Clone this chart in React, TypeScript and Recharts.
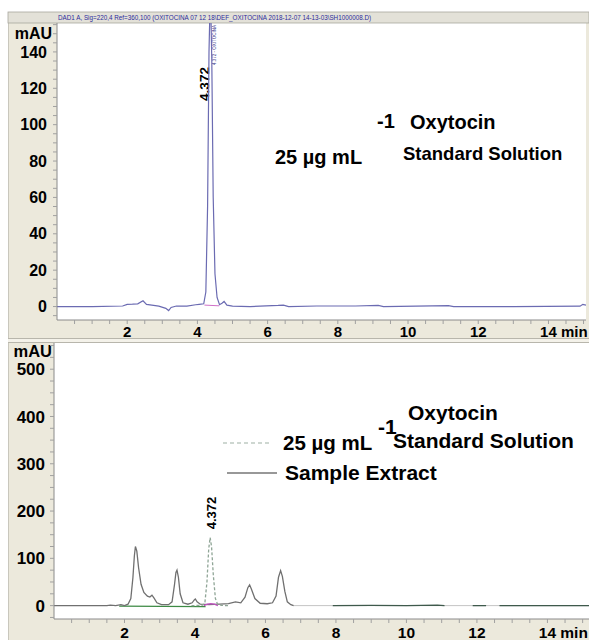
import React from 'react';
import { LineChart, Line, XAxis, YAxis, CartesianGrid, Customized } from 'recharts';

const FONT = '"Liberation Sans", Arial, Helvetica, sans-serif';
const BEIGE = '#ece9dc';

// ---- Top panel: 25 µg/mL standard solution ----
const topT = [0, 1.0, 1.87, 2.0, 2.15, 2.3, 2.45, 2.55, 2.7, 2.9, 3.1, 3.18, 3.25, 3.4, 3.7, 3.95, 4.05, 4.18, 4.24, 4.29, 4.33, 4.37, 4.41, 4.45, 4.5, 4.56, 4.63, 4.7, 4.76, 4.84, 5.0, 5.5, 6.3, 6.45, 6.6, 7.4, 8.5, 9.15, 9.3, 11.15, 11.3, 13.0, 14.9, 14.98, 15.07];
const topV = [0, 0, 0.3, 1.2, 1.3, 1.5, 3.2, 1.2, 0.8, 0.2, -1.0, -2.2, -0.5, 0.3, 0.2, 1.0, 1.2, 1.5, 8, 55, 140, 175, 135, 60, 18, 5, 1, 1.8, 2.8, 0.8, 0.2, 0, 0.6, 0.8, 0, 0.3, 0.3, 0.6, 0, 0.5, 0, 0, 0.2, 1.2, 0.8];
const topBaseT = [4.2, 4.62];
const topBaseV = [0.8, 0.4];
const topYTicks = [-5, 0, 5, 10, 15, 20, 25, 30, 35, 40, 45, 50, 55, 60, 65, 70, 75, 80, 85, 90, 95, 100, 105, 110, 115, 120, 125, 130, 135, 140, 145, 150, 155];
const topYLabels = [0, 20, 40, 60, 80, 100, 120, 140];

// ---- Bottom panel: sample extract vs standard ----
const sampleT = [0, 1.5, 1.6, 1.75, 1.9, 2.0, 2.1, 2.18, 2.24, 2.28, 2.31, 2.35, 2.4, 2.47, 2.55, 2.65, 2.72, 2.78, 2.84, 2.92, 3.05, 3.25, 3.35, 3.42, 3.46, 3.49, 3.53, 3.58, 3.66, 3.8, 3.92, 3.98, 4.01, 4.06, 4.15, 4.4, 4.7, 4.95, 5.15, 5.3, 5.42, 5.5, 5.55, 5.6, 5.7, 5.85, 6.05, 6.2, 6.3, 6.37, 6.43, 6.48, 6.55, 6.62, 6.72, 6.8];
const sampleV = [0, 0, 1, 0, 2, 0, 3, 15, 60, 105, 125, 115, 80, 45, 28, 20, 18, 22, 16, 6, 2, 2, 8, 45, 70, 75, 60, 25, 6, 3, 6, 12, 14, 8, 3, 2, 3, 4, 8, 6, 18, 38, 44, 35, 15, 5, 4, 6, 20, 60, 74, 62, 30, 8, 2, 0];
const stdT = [3.9, 4.2, 4.28, 4.34, 4.39, 4.43, 4.47, 4.52, 4.58, 4.64, 4.75, 4.95];
const stdV = [0, 0.5, 5, 50, 120, 144, 125, 65, 15, 3, 0.5, 0];
const greenT = [1.85, 4.3];
const greenV = [-1, -2];
const pinkT = [4.25, 4.35, 4.45, 4.55, 4.65];
const pinkV = [0, 3, 4, 3, 0];
const faintT = [6.8, 15.18];
const faintV = [0, 0];
const tailT = [7.91, 9.0, 10.0, 10.88, 11.08, 11.09, 11.88, 12.26, 12.27, 12.64, 13.5, 15.18];
const tailV = [0, 0.5, 0, 1, 0, null, 0, 0, null, 0, 0, 0];
const botYTicks = [-25, 0, 25, 50, 75, 100, 125, 150, 175, 200, 225, 250, 275, 300, 325, 350, 375, 400, 425, 450, 475, 500, 525, 550];
const botYLabels = [0, 100, 200, 300, 400, 500];

const xTicks = [0.5, 1, 1.5, 2, 2.5, 3, 3.5, 4, 4.5, 5, 5.5, 6, 6.5, 7, 7.5, 8, 8.5, 9, 9.5, 10, 10.5, 11, 11.5, 12, 12.5, 13, 13.5, 14, 14.5, 15];
const xLabels = [2, 4, 6, 8, 10, 12, 14];

const zip = (ts: number[], vs: (number | null)[]) => ts.map((t, i) => ({ t, v: vs[i] }));

const topData = zip(topT, topV);
const topBase = zip(topBaseT, topBaseV);
const sampleData = zip(sampleT, sampleV);
const stdData = zip(stdT, stdV);
const greenData = zip(greenT, greenV);
const pinkData = zip(pinkT, pinkV);
const faintData = zip(faintT, faintV);
const tailData = zip(tailT, tailV);

function XTick(props: any) {
  const { x, y, payload, fs } = props;
  const v = payload.value;
  if (!xLabels.includes(v)) return null;
  if (v === 14) {
    const half = fs * 0.556;
    return (
      <text x={x - half} y={y} dy="0.71em" textAnchor="start" fontSize={fs} fontWeight="bold" fontFamily={FONT} fill="#000">
        14 min
      </text>
    );
  }
  return (
    <text x={x} y={y} dy="0.71em" textAnchor="middle" fontSize={fs} fontWeight="bold" fontFamily={FONT} fill="#000">
      {v}
    </text>
  );
}

const bold = { fontFamily: FONT, fontWeight: 'bold' as const, fill: '#000' };

function TopAnnot() {
  return (
    <g>
      <rect x={8} y={12} width={581} height={11} fill="#e3e1d8" stroke="#a9a79e" strokeWidth={0.8} />
      <text x={58} y={17.5} dy="0.35em" fontSize={6.3} fontFamily={FONT} fill="#2b2b9c">
        DAD1 A, Sig=220,4 Ref=360,100 (OXITOCINA 07 12 18\DEF_OXITOCINA 2018-12-07 14-13-03\SH1000008.D)
      </text>
      <text x={52} y={33} dy="0.35em" textAnchor="end" fontSize={16} {...bold}>mAU</text>
      <text transform="translate(204,84) rotate(-90)" textAnchor="middle" dy="0.35em" fontSize={13.5} {...bold}>4.372</text>
      <text transform="translate(214,45) rotate(-90)" textAnchor="middle" dy="0.35em" fontSize={4.5} fontFamily={FONT} fill="#3a3a8a">4.372 - OXITOCINA</text>
      <text x={410} y={129} fontSize={20} {...bold}>Oxytocin</text>
      <text x={275} y={164} fontSize={20} {...bold}>25 µg mL</text>
      <text x={377} y={128} fontSize={20} {...bold}>-1</text>
      <text x={403} y={160} fontSize={18.5} {...bold}>Standard Solution</text>
    </g>
  );
}

function BotAnnot() {
  return (
    <g>
      <text x={52} y={21.5} dy="0.35em" textAnchor="end" fontSize={16.5} {...bold}>mAU</text>
      <text transform="translate(211,183) rotate(-90)" textAnchor="middle" dy="0.35em" fontSize={13} {...bold}>4.372</text>
      <text x={408} y={90} fontSize={21} {...bold}>Oxytocin</text>
      <text x={378} y={104} fontSize={21} {...bold}>-1</text>
      <line x1={223} y1={113} x2={272} y2={113} stroke="#9db0a4" strokeWidth={1.2} strokeDasharray="4 3" />
      <text x={283} y={120} fontSize={20.5} {...bold}>25 µg mL</text>
      <text x={393} y={118} fontSize={21} {...bold}>Standard Solution</text>
      <line x1={227} y1={143} x2={277} y2={143} stroke="#333" strokeWidth={1.2} />
      <text x={285} y={150} fontSize={21} {...bold}>Sample Extract</text>
    </g>
  );
}

export default function App() {
  return (
    <div style={{ position: 'absolute', left: 0, top: 0, width: 589, height: 640, background: '#fff', overflow: 'hidden' }}>
      <div style={{ position: 'absolute', left: 8, top: 12, width: 581, height: 628, background: BEIGE, borderLeft: '1px solid #c9c7bd' }} />
      <div style={{ position: 'absolute', left: 8, top: 338, width: 581, height: 3, borderTop: '1px solid #b8b6ac', borderBottom: '1px solid #b8b6ac', background: '#f4f2ea' }} />
      <div style={{ position: 'absolute', left: 0, top: 0 }}>
        <LineChart width={589} height={344} margin={{ top: 23, right: 3, left: 0, bottom: 6 }}>
          <CartesianGrid fill="#fff" stroke="none" horizontal={false} vertical={false} />
          <XAxis dataKey="t" type="number" domain={[0, 15.07]} allowDataOverflow ticks={xTicks} interval={0} height={18}
            tickSize={4} tickMargin={2.5} axisLine={{ stroke: '#8a8a8a' }} tickLine={{ stroke: '#a0a0a0' }} tick={<XTick fs={15} />} />
          <YAxis type="number" domain={[-7.4, 155.9]} allowDataOverflow ticks={topYTicks} interval={0} width={57}
            tickSize={4} tickMargin={6} axisLine={{ stroke: '#8a8a8a' }} tickLine={{ stroke: '#a0a0a0' }}
            tickFormatter={(v: number) => (topYLabels.includes(v) ? String(v) : '')}
            tick={{ fontSize: 16, fontWeight: 'bold', fill: '#000', fontFamily: FONT }} />
          <Line data={topData} dataKey="v" stroke="#6b6bb2" strokeWidth={1.2} dot={false} isAnimationActive={false} />
          <Line data={topBase} dataKey="v" stroke="#d070c8" strokeWidth={1} dot={false} isAnimationActive={false} />
          <Customized component={TopAnnot} />
        </LineChart>
      </div>
      <div style={{ position: 'absolute', left: 0, top: 330 }}>
        <LineChart width={589} height={310} margin={{ top: 13, right: 0, left: 0, bottom: 0 }}>
          <CartesianGrid fill="#fff" stroke="none" horizontal={false} vertical={false} />
          <XAxis dataKey="t" type="number" domain={[0, 15.18]} allowDataOverflow ticks={xTicks} interval={0} height={21}
            tickSize={4} tickMargin={4} axisLine={{ stroke: '#8a8a8a' }} tickLine={{ stroke: '#a0a0a0' }} tick={<XTick fs={15.5} />} />
          <YAxis type="number" domain={[-28.3, 555.4]} allowDataOverflow ticks={botYTicks} interval={0} width={54}
            tickSize={4} tickMargin={5} axisLine={{ stroke: '#8a8a8a' }} tickLine={{ stroke: '#a0a0a0' }}
            tickFormatter={(v: number) => (botYLabels.includes(v) ? String(v) : '')}
            tick={{ fontSize: 17, fontWeight: 'bold', fill: '#000', fontFamily: FONT }} />
          <Line data={faintData} dataKey="v" stroke="#c4c4c4" strokeWidth={1} dot={false} isAnimationActive={false} />
          <Line data={tailData} dataKey="v" stroke="#3f5a4c" strokeWidth={1.2} dot={false} connectNulls={false} isAnimationActive={false} />
          <Line data={greenData} dataKey="v" stroke="#3d8a44" strokeWidth={1.2} dot={false} isAnimationActive={false} />
          <Line data={sampleData} dataKey="v" stroke="#707070" strokeWidth={1.3} dot={false} isAnimationActive={false} />
          <Line data={pinkData} dataKey="v" stroke="#c050c0" strokeWidth={1.2} dot={false} isAnimationActive={false} />
          <Line data={stdData} dataKey="v" stroke="#8fa596" strokeWidth={1.3} strokeDasharray="3 2" dot={false} isAnimationActive={false} />
          <Customized component={BotAnnot} />
        </LineChart>
      </div>
    </div>
  );
}
